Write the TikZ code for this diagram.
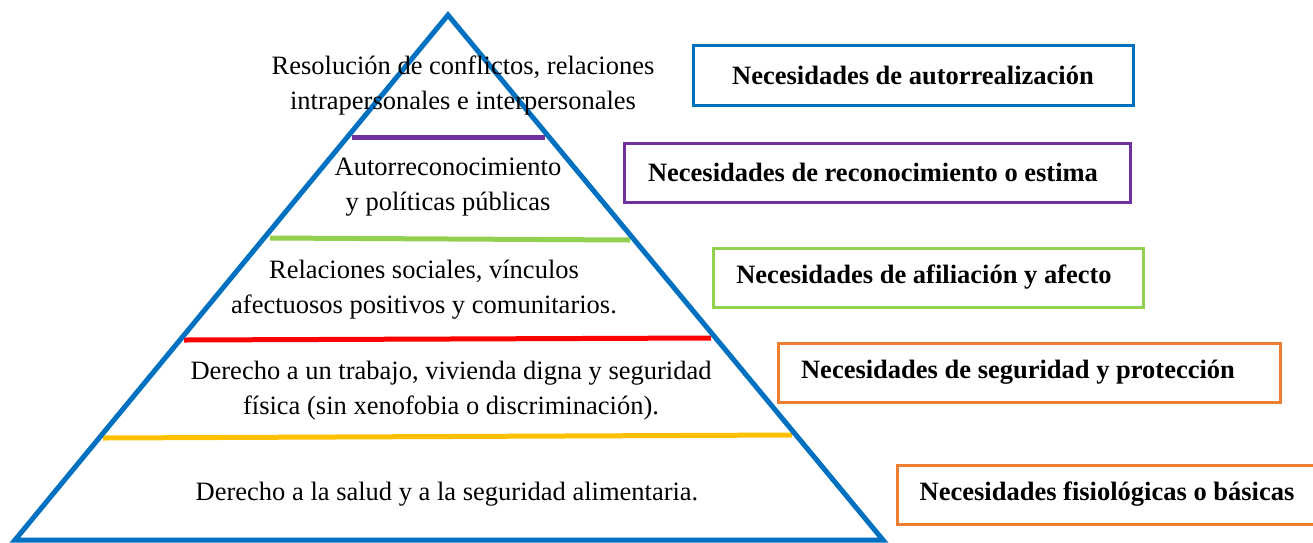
\documentclass[tikz,border=0pt]{standalone}
\usepackage{fontspec}
\setmainfont{Liberation Serif}
\definecolor{pblue}{HTML}{0070C0}
\definecolor{ppurple}{HTML}{7030A0}
\definecolor{pgreen}{HTML}{92D050}
\definecolor{pred}{HTML}{FF0000}
\definecolor{pgold}{HTML}{FFC000}
\definecolor{porange}{HTML}{ED7D31}
\begin{document}
\begin{tikzpicture}[x=1pt,y=-1pt,
  tier/.style={font=\fontsize{26.5}{35}\selectfont, align=center, inner sep=0pt},
  boxtext/.style={font=\fontsize{26.5}{30}\selectfont\bfseries, inner sep=0pt},
  needbox/.style={line width=3pt, inner sep=0pt},
  band/.style={line width=5pt}]
\useasboundingbox (0,0) rectangle (1313,542);
% bands
\coordinate (p1) at (352,137); \coordinate (p2) at (545,137);
\coordinate (g1) at (270,238); \coordinate (g2) at (630,240);
\coordinate (r1) at (184,340); \coordinate (r2) at (711,338);
\coordinate (y1) at (103,438); \coordinate (y2) at (792,435);
\draw[band, ppurple] (p1) -- (p2);
\draw[band, pgreen] (g1) -- (g2);
\draw[band, pred] (r1) -- (r2);
\draw[band, pgold] (y1) -- (y2);
% pyramid
\coordinate (apex) at (448,15);
\coordinate (bl) at (15,540);
\coordinate (br) at (883,540);
\draw[pblue, line width=5pt, line join=miter] (bl) -- (apex) -- (br) -- cycle;
% tier texts
\node[tier] (t1) at (463,85) {Resolución de conflictos, relaciones\\intrapersonales e interpersonales};
\node[tier] (t2) at (448,187) {Autorreconocimiento\\y políticas públicas};
\node[tier] (t3) at (424,290) {Relaciones sociales, vínculos\\afectuosos positivos y comunitarios.};
\node[tier] (t4) at (451,391) {Derecho a un trabajo, vivienda digna y seguridad\\física (sin xenofobia o discriminación).};
\node[tier] (t5) at (447,494) {Derecho a la salud y a la seguridad alimentaria.};
% need boxes
\draw[needbox, pblue] (693,45) rectangle (1133,105);
\node[boxtext] (n1) at (913,75) {Necesidades de autorrealización};
\draw[needbox, ppurple] (624,143) rectangle (1130,202);
\node[boxtext] (n2) at (873,172) {Necesidades de reconocimiento o estima};
\draw[needbox, pgreen] (713,248) rectangle (1143,307);
\node[boxtext] (n3) at (924,277) {Necesidades de afiliación y afecto};
\draw[needbox, porange] (778,343) rectangle (1280,402);
\node[boxtext] (n4) at (1018,372) {Necesidades de seguridad y protección};
\draw[needbox, porange] (897,465) rectangle (1330,524);
\node[boxtext] (n5) at (1107,494) {Necesidades fisiológicas o básicas};
\end{tikzpicture}
\end{document}
